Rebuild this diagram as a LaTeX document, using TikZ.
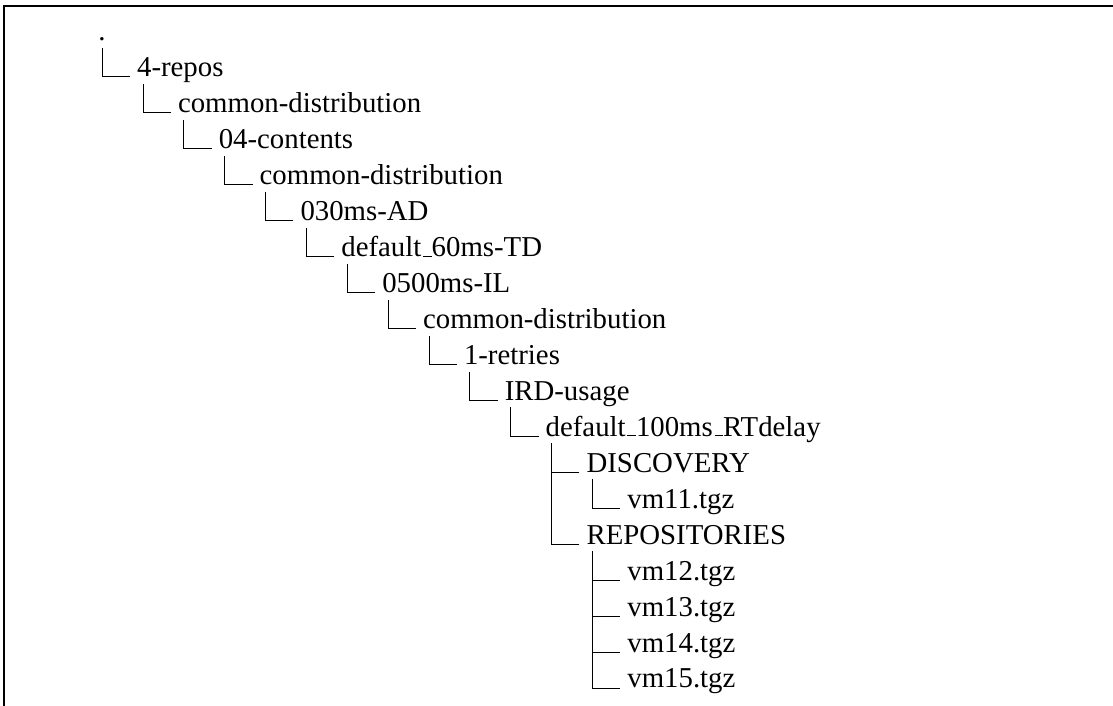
\documentclass[tikz,border=0pt]{standalone}
\usepackage{fontspec}
\setmainfont{Liberation Serif}
\usetikzlibrary{calc}

% LaTeX-style low underscore rule
\newcommand\usc{\leavevmode\kern.06em\vbox{\hrule width.3em}}

% elbow connector from a parent entry down to a child entry
\newcommand\branch[2]{%
  \draw[link] let \p1=(#2.base west), \p2=(#1.base) in
    (\x1-3.4pt,\y1) -- (\x1-17.35pt,\y1) -- (\x1-17.35pt,\y2-3.6pt);}

\tikzset{
  entry/.style={anchor=base west, inner sep=0pt, font=\fontsize{14.4}{17}\selectfont},
  link/.style={line width=0.4pt, black},
  frameline/.style={line width=0.8pt, black},
}

\begin{document}
\begin{tikzpicture}[x=0.5pt, y=-0.5pt]
  \useasboundingbox (0,0) rectangle (1113,706);

  % frame edges
  \draw[frameline] (1113,6) -- (4,6) -- (4,706);

  % entries: x = 136.7 + (level-1)*40.86, baseline = 76.6 + (row-1)*35.96
  \node[entry] (root) at (98.0, 40.6) {.};
  \node[entry] (repos) at (136.7, 76.6) {4-repos};
  \node[entry] (cd1) at (177.6, 112.6) {common-distribution};
  \node[entry] (cont) at (218.4, 148.5) {04-contents};
  \node[entry] (cd2) at (259.3, 184.5) {common-distribution};
  \node[entry] (ad) at (300.1, 220.4) {030ms-AD};
  \node[entry] (td) at (341.0, 256.4) {default\usc 60ms-TD};
  \node[entry] (il) at (381.9, 292.4) {0500ms-IL};
  \node[entry] (cd3) at (422.7, 328.3) {common-distribution};
  \node[entry] (retr) at (463.6, 364.3) {1-retries};
  \node[entry] (ird) at (504.4, 400.2) {IRD-usage};
  \node[entry] (rtd) at (545.3, 436.2) {default\usc 100ms\usc RTdelay};
  \node[entry] (disc) at (586.2, 472.2) {DISCOVERY};
  \node[entry] (vm11) at (627.0, 508.1) {vm11.tgz};
  \node[entry] (repo) at (586.2, 544.1) {REPOSITORIES};
  \node[entry] (vm12) at (627.0, 580.0) {vm12.tgz};
  \node[entry] (vm13) at (627.0, 616.0) {vm13.tgz};
  \node[entry] (vm14) at (627.0, 652.0) {vm14.tgz};
  \node[entry] (vm15) at (627.0, 687.9) {vm15.tgz};

  % tree branches
  \branch{root}{repos}
  \branch{repos}{cd1}
  \branch{cd1}{cont}
  \branch{cont}{cd2}
  \branch{cd2}{ad}
  \branch{ad}{td}
  \branch{td}{il}
  \branch{il}{cd3}
  \branch{cd3}{retr}
  \branch{retr}{ird}
  \branch{ird}{rtd}
  \branch{rtd}{disc}
  \branch{disc}{vm11}
  \branch{rtd}{repo}
  \branch{repo}{vm12}
  \branch{repo}{vm13}
  \branch{repo}{vm14}
  \branch{repo}{vm15}
\end{tikzpicture}
\end{document}
